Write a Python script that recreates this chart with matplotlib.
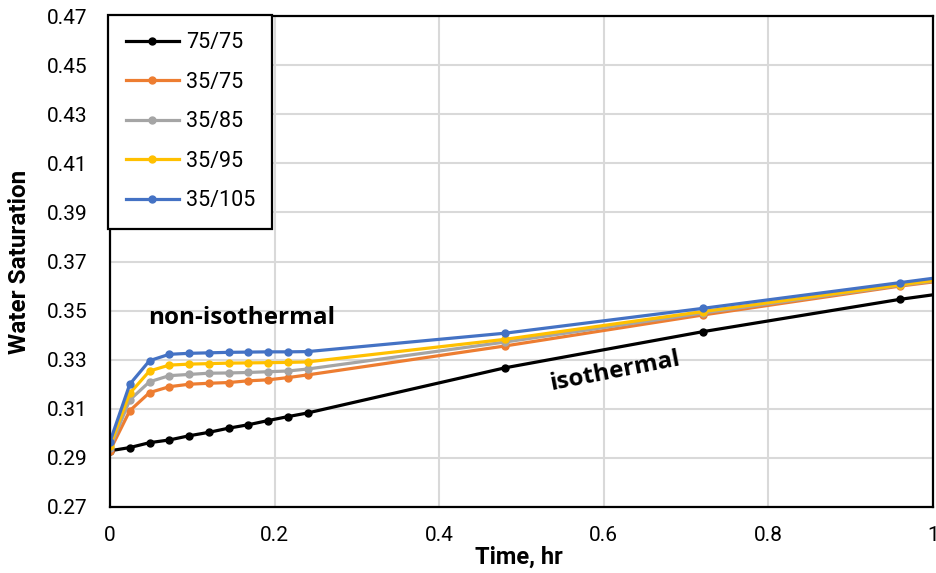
import numpy as np
import matplotlib.pyplot as plt
from matplotlib.ticker import FormatStrFormatter, FixedLocator

time_hr = [0.0, 0.024, 0.048, 0.072, 0.096, 0.12, 0.144, 0.168, 0.192, 0.216, 0.24, 0.48, 0.72, 0.96, 1.2]

sw_75_75 = [0.2929, 0.2942, 0.2962, 0.2973, 0.2990, 0.3004, 0.3021, 0.3035, 0.3052, 0.3068, 0.3083,
            0.3267, 0.3414, 0.3546, 0.3656]
sw_35_75 = [0.2930, 0.3092, 0.3166, 0.3190, 0.3200, 0.3204, 0.3207, 0.3214, 0.3218, 0.3227, 0.3238,
            0.3356, 0.3482, 0.3600, 0.3700]
sw_35_85 = [0.2940, 0.3136, 0.3210, 0.3235, 0.3240, 0.3245, 0.3246, 0.3248, 0.3251, 0.3254, 0.3262,
            0.3372, 0.3490, 0.3603, 0.3705]
sw_35_95 = [0.2950, 0.3163, 0.3254, 0.3278, 0.3282, 0.3284, 0.3286, 0.3287, 0.3288, 0.3289, 0.3291,
            0.3383, 0.3496, 0.3605, 0.3710]
sw_35_105 = [0.2966, 0.3200, 0.3296, 0.3322, 0.3326, 0.3328, 0.3330, 0.3331, 0.3332, 0.3332, 0.3333,
             0.3408, 0.3509, 0.3614, 0.3720]

labels = ["75/75", "35/75", "35/85", "35/95", "35/105"]
colors = ["#000000", "#ED7D31", "#A5A5A5", "#FFC000", "#4472C4"]
series = [sw_75_75, sw_35_75, sw_35_85, sw_35_95, sw_35_105]

y_ticks = np.arange(0.27, 0.4701, 0.02)
x_ticks = [0, 0.2, 0.4, 0.6, 0.8, 1.0]
x_ticklabels = ["0", "0.2", "0.4", "0.6", "0.8", "1"]

plt.rcParams['font.family'] = 'Roboto'

fig = plt.figure(figsize=(9.37, 5.73), dpi=100)
ax = fig.add_axes([0.1174, 0.1152, 0.8783, 0.8568])

for vals, lab, col in zip(series, labels, colors):
    ax.plot(time_hr, vals, color=col, lw=2.3, marker="o", markersize=5, label=lab)

ax.set_xlim(0, 1)
ax.set_ylim(0.27, 0.47)
ax.yaxis.set_major_locator(FixedLocator(y_ticks))
ax.yaxis.set_major_formatter(FormatStrFormatter("%.2f"))
ax.set_xticks(x_ticks)
ax.set_xticklabels(x_ticklabels)
ax.grid(True, color="#D9D9D9", lw=1.5)
ax.set_axisbelow(True)
for s in ax.spines.values():
    s.set_color("black")
    s.set_linewidth(1.6)

ax.tick_params(axis="y", length=0, pad=16, labelsize=15)
ax.tick_params(axis="x", length=0, pad=14, labelsize=15)

ax.set_ylabel("Water Saturation", fontsize=17.5, fontweight="bold")
ax.yaxis.set_label_coords(-0.096, 0.5)
ax.set_xlabel("Time, hr", fontsize=17, fontweight="bold")
ax.xaxis.set_label_coords(0.497, -0.078)

ax.text(0.160, 0.347, "non-isothermal", fontsize=17.5, fontweight="bold",
        family="Open Sans", ha="center", va="center")
ax.text(0.614, 0.325, "isothermal", fontsize=17.5, fontweight="bold",
        family="Open Sans", ha="center", va="center", rotation=11)

leg = ax.legend(loc="upper left", bbox_to_anchor=(-0.002, 1.002),
                prop={"family": "Roboto", "size": 15.5}, handlelength=2.5,
                handletextpad=0.3, labelspacing=0.86, borderpad=0.8,
                fancybox=False, framealpha=1, edgecolor="black", borderaxespad=0)
leg.get_frame().set_linewidth(1.6)

fig.savefig("out.png", dpi=100)
